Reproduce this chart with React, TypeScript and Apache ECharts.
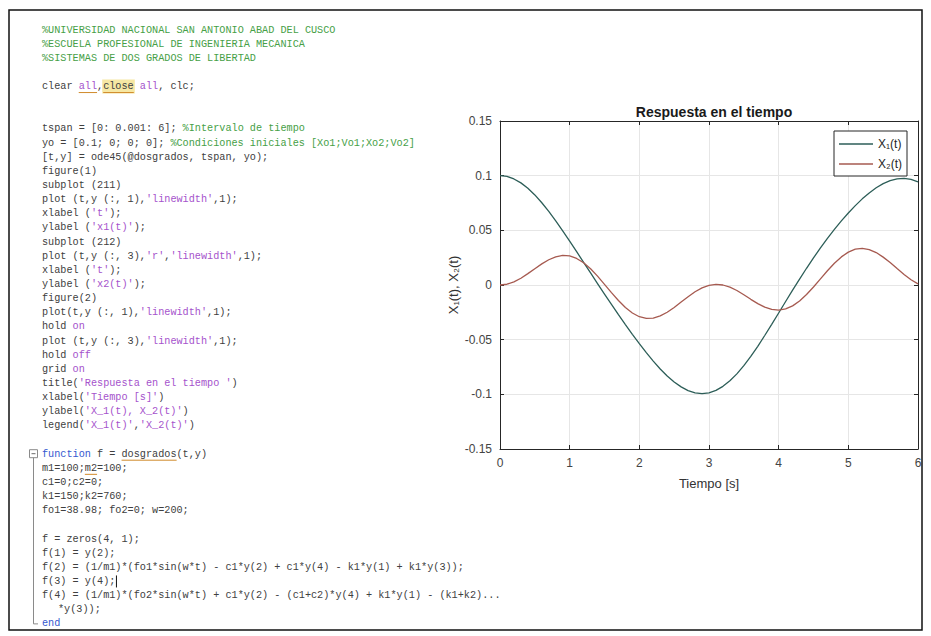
import React, { useEffect, useRef } from "react";
import * as echarts from "echarts";

// ---------------- data ----------------
const timeValues = [
  0, 0.1, 0.2, 0.3, 0.4, 0.5, 0.6, 0.7, 0.8, 0.9,
  1.0, 1.1, 1.2, 1.3, 1.4, 1.5, 1.6, 1.7, 1.8, 1.9,
  2.0, 2.1, 2.2, 2.3, 2.4, 2.5, 2.6, 2.7, 2.8, 2.9,
  3.0, 3.1, 3.2, 3.3, 3.4, 3.5, 3.6, 3.7, 3.8, 3.9,
  4.0, 4.1, 4.2, 4.3, 4.4, 4.5, 4.6, 4.7, 4.8, 4.9,
  5.0, 5.1, 5.2, 5.3, 5.4, 5.5, 5.6, 5.7, 5.8, 5.9,
  6.0,
];

const x1Values = [
  0.1, 0.0993, 0.097, 0.0934, 0.0885, 0.0824, 0.0752, 0.0673, 0.0586, 0.0496,
  0.0401, 0.0305, 0.0207, 0.011, 0.0013, -0.0083, -0.0178, -0.0271, -0.0362, -0.0451,
  -0.0537, -0.0619, -0.0696, -0.0768, -0.0832, -0.0887, -0.0932, -0.0966, -0.0987, -0.0994,
  -0.0986, -0.0964, -0.0927, -0.0876, -0.0813, -0.0738, -0.0653, -0.0561, -0.0462, -0.036,
  -0.0256, -0.0151, -0.0047, 0.0054, 0.0153, 0.0248, 0.0339, 0.0426, 0.0508, 0.0586,
  0.0659, 0.0726, 0.0788, 0.0842, 0.0889, 0.0927, 0.0955, 0.0971, 0.0976, 0.0967,
  0.0944,
];

const x2Values = [
  0, 0.0007, 0.0029, 0.0062, 0.0104, 0.0149, 0.0193, 0.0231, 0.0258, 0.0271,
  0.0266, 0.0243, 0.0203, 0.0148, 0.0081, 0.0006, -0.007, -0.0142, -0.0206, -0.0256,
  -0.029, -0.0306, -0.0303, -0.0283, -0.0249, -0.0206, -0.0156, -0.0107, -0.0062, -0.0026,
  -0.0003, 0.0006, 0.0, -0.0019, -0.005, -0.0089, -0.0131, -0.017, -0.0202, -0.0223,
  -0.023, -0.0219, -0.0191, -0.0146, -0.0087, -0.0018, 0.0056, 0.013, 0.0199, 0.0257,
  0.0301, 0.0328, 0.0335, 0.0324, 0.0297, 0.0255, 0.0205, 0.015, 0.0096, 0.0048,
  0.001,
];

const seriesNames = ["X\u2081(t)", "X\u2082(t)"];
const chartTitle = "Respuesta en el tiempo";
const xAxisName = "Tiempo [s]";
const yAxisName = "X\u2081(t), X\u2082(t)";

const codeLines = [
  "%UNIVERSIDAD NACIONAL SAN ANTONIO ABAD DEL CUSCO",
  "%ESCUELA PROFESIONAL DE INGENIERIA MECANICA",
  "%SISTEMAS DE DOS GRADOS DE LIBERTAD",
  "",
  "clear all,close all, clc;",
  "",
  "",
  "tspan = [0: 0.001: 6]; %Intervalo de tiempo",
  "yo = [0.1; 0; 0; 0]; %Condiciones iniciales [Xo1;Vo1;Xo2;Vo2]",
  "[t,y] = ode45(@dosgrados, tspan, yo);",
  "figure(1)",
  "subplot (211)",
  "plot (t,y (:, 1),'linewidth',1);",
  "xlabel ('t');",
  "ylabel ('x1(t)');",
  "subplot (212)",
  "plot (t,y (:, 3),'r','linewidth',1);",
  "xlabel ('t');",
  "ylabel ('x2(t)');",
  "figure(2)",
  "plot(t,y (:, 1),'linewidth',1);",
  "hold on",
  "plot (t,y (:, 3),'linewidth',1);",
  "hold off",
  "grid on",
  "title('Respuesta en el tiempo ')",
  "xlabel('Tiempo [s]')",
  "ylabel('X_1(t), X_2(t)')",
  "legend('X_1(t)','X_2(t)')",
  "",
  "function f = dosgrados(t,y)",
  "m1=100;m2=100;",
  "c1=0;c2=0;",
  "k1=150;k2=760;",
  "fo1=38.98; fo2=0; w=200;",
  "",
  "f = zeros(4, 1);",
  "f(1) = y(2);",
  "f(2) = (1/m1)*(fo1*sin(w*t) - c1*y(2) + c1*y(4) - k1*y(1) + k1*y(3));",
  "f(3) = y(4);",
  "f(4) = (1/m1)*(fo2*sin(w*t) + c1*y(2) - (c1+c2)*y(4) + k1*y(1) - (k1+k2)...",
  "    *y(3));",
  "end",
];

// ---------------- helpers ----------------
const UI_FONT = "'Liberation Sans', Arial, Helvetica, sans-serif";
const MONO = "'Liberation Mono', 'Courier New', monospace";
const CODE_SIZE = 10.2;
const CW = CODE_SIZE * 0.6;
const CODE_X = 42;
const CODE_Y0 = 30;
const CODE_LH = 14.14;

function richLine(trimmed: string): string {
  const segs: [string, string][] = [];
  const push = (k: string, s: string) => {
    if (s) segs.push([k, s]);
  };
  if (/^function\b/.test(trimmed)) {
    push("k", "function ");
    push("n", trimmed.slice(9));
  } else if (trimmed === "end") {
    push("k", "end");
  } else if (/^(hold|grid) (on|off)$/.test(trimmed)) {
    const [a, b] = trimmed.split(" ");
    push("n", a + " ");
    push("s", b);
  } else if (/^clear /.test(trimmed)) {
    push("n", "clear ");
    push("s", "all");
    push("n", ",close ");
    push("s", "all");
    push("n", ", clc;");
  } else {
    let cur = "";
    let inStr = false;
    for (let i = 0; i < trimmed.length; i++) {
      const ch = trimmed[i];
      if (!inStr && ch === "%") {
        push("n", cur);
        cur = "";
        push("c", trimmed.slice(i));
        return segs.map(([k, s]) => `{${k}|${s}}`).join("");
      }
      if (ch === "'") {
        if (!inStr) {
          push("n", cur);
          cur = "'";
          inStr = true;
        } else {
          cur += "'";
          push("s", cur);
          cur = "";
          inStr = false;
        }
        continue;
      }
      cur += ch;
    }
    push(inStr ? "s" : "n", cur);
  }
  return segs.map(([k, s]) => `{${k}|${s}}`).join("");
}

const richStyles = {
  n: { fill: "#404040", fontFamily: MONO, fontSize: CODE_SIZE },
  c: { fill: "#46a046", fontFamily: MONO, fontSize: CODE_SIZE },
  s: { fill: "#a552cc", fontFamily: MONO, fontSize: CODE_SIZE },
  k: { fill: "#3558d0", fontFamily: MONO, fontSize: CODE_SIZE },
};

function lineY(i: number) {
  return CODE_Y0 + CODE_LH * i;
}

export default function App() {
  const ref = useRef<HTMLDivElement>(null);

  useEffect(() => {
    document.body.style.margin = "0";
    const chart = echarts.init(ref.current as HTMLDivElement, null, { renderer: "svg" });

    const codeGraphics: any[] = [];
    codeLines.forEach((line, i) => {
      if (!line) return;
      const lead = line.length - line.replace(/^\s+/, "").length;
      const trimmed = line.trim();
      codeGraphics.push({
        type: "text",
        x: CODE_X + (lead ? 16 : 0),
        y: lineY(i),
        z: 10,
        style: {
          text: richLine(trimmed),
          rich: richStyles,
          fontFamily: MONO,
          fontSize: CODE_SIZE,
          fill: "#404040",
          verticalAlign: "middle",
        },
      });
    });

    const clearY = lineY(4);
    const funcY = lineY(30);
    const endY = lineY(42);
    const decorations: any[] = [
      {
        type: "rect",
        z: 5,
        shape: { x: CODE_X + 10 * CW - 1, y: clearY - 7, width: 5 * CW + 2, height: 14 },
        style: { fill: "#f6e7a3" },
      },
      {
        type: "line",
        z: 11,
        shape: { x1: CODE_X + 6 * CW, y1: clearY + 6, x2: CODE_X + 9 * CW, y2: clearY + 6 },
        style: { stroke: "#d08a2a", lineWidth: 1 },
      },
      {
        type: "line",
        z: 11,
        shape: { x1: CODE_X + 10 * CW, y1: clearY + 6, x2: CODE_X + 15 * CW, y2: clearY + 6 },
        style: { stroke: "#d08a2a", lineWidth: 1 },
      },
      {
        type: "line",
        z: 11,
        shape: { x1: CODE_X + 13 * CW, y1: funcY + 6, x2: CODE_X + 22 * CW, y2: funcY + 6 },
        style: { stroke: "#d08a2a", lineWidth: 1 },
      },
      {
        type: "line",
        z: 11,
        shape: { x1: CODE_X + 7 * CW, y1: lineY(31) + 6, x2: CODE_X + 9 * CW, y2: lineY(31) + 6 },
        style: { stroke: "#d08a2a", lineWidth: 1 },
      },
      {
        type: "line",
        z: 11,
        shape: { x1: CODE_X + 12 * CW + 1, y1: lineY(39) - 6, x2: CODE_X + 12 * CW + 1, y2: lineY(39) + 6 },
        style: { stroke: "#111", lineWidth: 1 },
      },
      {
        type: "rect",
        z: 11,
        shape: { x: 29.5, y: funcY - 4.5, width: 8, height: 8 },
        style: { fill: "#fff", stroke: "#8a8a8a", lineWidth: 1 },
      },
      {
        type: "line",
        z: 12,
        shape: { x1: 31.5, y1: funcY - 0.5, x2: 35.5, y2: funcY - 0.5 },
        style: { stroke: "#6a6a6a", lineWidth: 1 },
      },
      {
        type: "polyline",
        z: 11,
        shape: { points: [[33.5, funcY + 3.5], [33.5, endY], [38, endY]] },
        style: { fill: "none", stroke: "#8a8a8a", lineWidth: 1 },
      },
      {
        type: "rect",
        z: 20,
        shape: { x: 9, y: 10, width: 913, height: 620 },
        style: { fill: "none", stroke: "#111", lineWidth: 1.5 },
      },
    ];

    const axisColor = "#262626";
    const labelColor = "#444";
    const yFmt = (v: number) => String(Math.round(v * 100) / 100);

    const option: any = {
      animation: false,
      backgroundColor: "#ffffff",
      title: {
        text: chartTitle,
        left: 709,
        top: 100,
        textAlign: "center",
        textStyle: { fontFamily: UI_FONT, fontSize: 14, fontWeight: "bold", color: "#1a1a1a" },
      },
      grid: { left: 500, top: 121, width: 418, height: 328, containLabel: false },
      legend: {
        data: seriesNames,
        orient: "vertical",
        right: 24,
        top: 131,
        icon: "rect",
        itemWidth: 34,
        itemHeight: 1.5,
        itemGap: 8,
        padding: [7, 5, 6, 5],
        borderColor: axisColor,
        borderWidth: 1,
        backgroundColor: "#ffffff",
        textStyle: { fontFamily: UI_FONT, fontSize: 12, color: axisColor },
      },
      xAxis: [
        {
          type: "value",
          min: 0,
          max: 6,
          interval: 1,
          position: "bottom",
          name: xAxisName,
          nameLocation: "middle",
          nameGap: 28,
          nameTextStyle: { fontFamily: UI_FONT, fontSize: 13, color: "#333" },
          axisLine: { show: true, onZero: false, lineStyle: { color: axisColor, width: 1 } },
          axisTick: { show: true, inside: true, length: 4, lineStyle: { color: axisColor } },
          axisLabel: { fontFamily: UI_FONT, fontSize: 12, color: labelColor, margin: 8 },
          splitLine: { show: true, lineStyle: { color: "#e6e6e6", width: 1 } },
        },
        {
          type: "value",
          min: 0,
          max: 6,
          interval: 1,
          position: "top",
          axisLine: { show: true, onZero: false, lineStyle: { color: axisColor, width: 1 } },
          axisTick: { show: true, inside: true, length: 4, lineStyle: { color: axisColor } },
          axisLabel: { show: false },
          splitLine: { show: false },
        },
      ],
      yAxis: [
        {
          type: "value",
          min: -0.15,
          max: 0.15,
          interval: 0.05,
          position: "left",
          name: yAxisName,
          nameLocation: "middle",
          nameGap: 40,
          nameRotate: 90,
          nameTextStyle: { fontFamily: UI_FONT, fontSize: 13, color: "#333" },
          axisLine: { show: true, onZero: false, lineStyle: { color: axisColor, width: 1 } },
          axisTick: { show: true, inside: true, length: 4, lineStyle: { color: axisColor } },
          axisLabel: { fontFamily: UI_FONT, fontSize: 12, color: labelColor, margin: 8, formatter: yFmt },
          splitLine: { show: true, lineStyle: { color: "#e6e6e6", width: 1 } },
        },
        {
          type: "value",
          min: -0.15,
          max: 0.15,
          interval: 0.05,
          position: "right",
          axisLine: { show: true, onZero: false, lineStyle: { color: axisColor, width: 1 } },
          axisTick: { show: true, inside: true, length: 4, lineStyle: { color: axisColor } },
          axisLabel: { show: false },
          splitLine: { show: false },
        },
      ],
      series: [
        {
          type: "line",
          name: seriesNames[0],
          xAxisIndex: 0,
          yAxisIndex: 0,
          data: timeValues.map((t, i) => [t, x1Values[i]]),
          showSymbol: false,
          symbol: "none",
          lineStyle: { color: "#2d5e58", width: 1.3 },
          itemStyle: { color: "#2d5e58" },
          z: 3,
        },
        {
          type: "line",
          name: seriesNames[1],
          xAxisIndex: 0,
          yAxisIndex: 0,
          data: timeValues.map((t, i) => [t, x2Values[i]]),
          showSymbol: false,
          symbol: "none",
          lineStyle: { color: "#a65a50", width: 1.3 },
          itemStyle: { color: "#a65a50" },
          z: 3,
        },
      ],
      graphic: { elements: [...decorations, ...codeGraphics] },
    };

    chart.setOption(option);
    return () => chart.dispose();
  }, []);

  return (
    <div
      ref={ref}
      style={{ position: "absolute", left: 0, top: 0, width: 931, height: 636, background: "#fff" }}
    />
  );
}
